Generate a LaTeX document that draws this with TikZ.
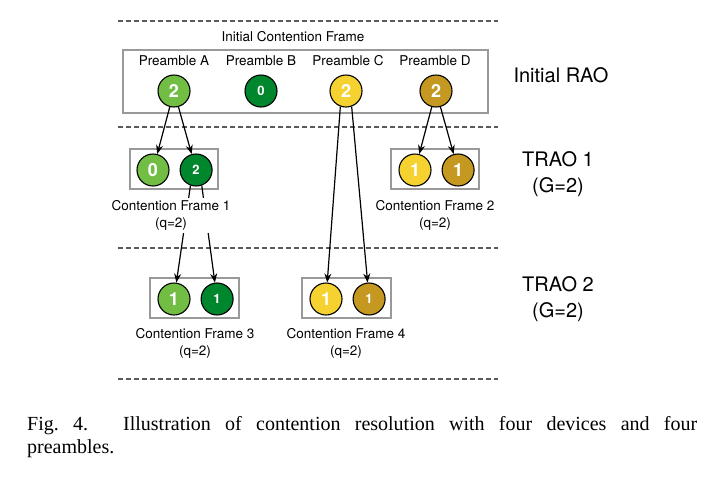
\documentclass[tikz,border=0pt]{standalone}
\usepackage{fontspec}
\setmainfont{TeX Gyre Heros}
\newfontfamily\capfont{Liberation Serif}
\usetikzlibrary{arrows.meta,positioning}
\definecolor{lgreen}{RGB}{114,190,68}
\definecolor{dgreen}{RGB}{0,134,44}
\definecolor{yel}{RGB}{245,210,47}
\definecolor{gold}{RGB}{196,152,33}
\tikzset{
  dev/.style={circle, draw, line width=1.1pt, minimum size=32pt, inner sep=0pt,
              text=white, font=\fontsize{18}{18}\selectfont\bfseries},
  devs/.style={dev, font=\fontsize{13}{13}\selectfont\bfseries},
  frm/.style={rectangle, draw=black!40, line width=1.4pt},
  fl/.style={-{Stealth[length=9pt,width=7pt]}, line width=1.2pt},
  lbl/.style={font=\fontsize{13.5}{17}\selectfont, align=center, inner sep=2pt},
  rlbl/.style={font=\fontsize{20}{26}\selectfont, align=center, inner sep=2pt},
  sep/.style={draw=black!65, line width=1.4pt, dash pattern=on 4.5pt off 3.5pt},
}
\begin{document}
\begin{tikzpicture}[x=1pt,y=-1pt]
\useasboundingbox (0,0) rectangle (711,493);
\foreach \y in {21,127,248,379} \draw[sep] (118,\y) -- (498,\y);
% initial contention frame
\node[frm, minimum width=365pt, minimum height=63pt] (icf) at (305.5,81.5) {};
\node[lbl] (icft) at (293,37) {Initial Contention Frame};
\node[dev, fill=lgreen] (pA) at (174,91) {2};
\node[devs, fill=dgreen] (pB) at (261,91) {0};
\node[dev, fill=yel] (pC) at (346,91) {2};
\node[dev, fill=gold] (pD) at (436,91) {2};
\node[lbl] (lA) at (174,61) {Preamble A};
\node[lbl] (lB) at (261,61) {Preamble B};
\node[lbl] (lC) at (348,61) {Preamble C};
\node[lbl] (lD) at (435,61) {Preamble D};
% TRAO 1
\node[frm, minimum width=88pt, minimum height=40pt] (cf1) at (174,169) {};
\node[dev, fill=lgreen] (a1) at (153,170) {0};
\node[devs, fill=dgreen, right=10pt of a1] (a2) {2};
\node[frm, minimum width=88pt, minimum height=40pt] (cf2) at (435,169) {};
\node[dev, fill=yel] (b1) at (415,170) {1};
\node[dev, fill=gold, right=10pt of b1] (b2) {1};
% TRAO 2
\node[frm, minimum width=89pt, minimum height=40pt] (cf3) at (194.5,298) {};
\node[dev, fill=lgreen] (c1) at (174,299) {1};
\node[devs, fill=dgreen, right=10pt of c1] (c2) {1};
\node[frm, minimum width=89pt, minimum height=40pt] (cf4) at (346.5,298) {};
\node[dev, fill=yel] (d1) at (326,299) {1};
\node[devs, fill=gold, right=10pt of d1] (d2) {1};
% arrows
\draw[fl] (pA) -- (a1);
\draw[fl] (pA) -- (a2);
\draw[fl] (pD) -- (b1);
\draw[fl] (pD) -- (b2);
\draw[fl] (pC.250) -- (d1);
\draw[fl] (pC.290) -- (d2);
\draw[fl] (a2.250) -- (c1);
\draw[fl] (a2.290) -- (c2);
% frame labels
\node[lbl, fill=white] (t1) at (171,215.5) {Contention Frame 1\\(q=2)};
\node[lbl, fill=white] (t2) at (435,215.5) {Contention Frame 2\\(q=2)};
\node[lbl, fill=white] (t3) at (195,343) {Contention Frame 3\\(q=2)};
\node[lbl, fill=white] (t4) at (346,343) {Contention Frame 4\\(q=2)};
% round labels
\node[rlbl] (r0) at (561,75) {Initial RAO};
\node[rlbl] (r1) at (558,174) {TRAO 1\\(G=2)};
\node[rlbl] (r2) at (558,299) {TRAO 2\\(G=2)};
% caption
\node[font=\capfont\fontsize{20}{23.5}\selectfont, text width=670pt, align=justify,
      anchor=north west, inner sep=0pt] (cap) at (27,416)
  {Fig.~4.\hspace{1.75em}Illustration of contention resolution with four devices and four\linebreak preambles.};
\end{tikzpicture}
\end{document}
